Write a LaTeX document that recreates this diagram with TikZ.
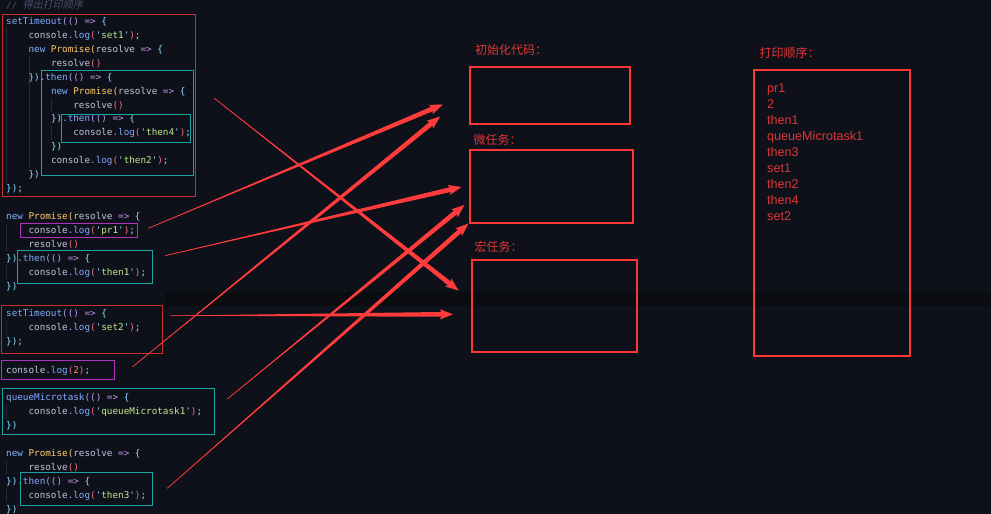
\documentclass[tikz,border=0pt]{standalone}
\usepackage{fontspec}
\setmainfont{Liberation Sans}
\setmonofont{DejaVu Sans Mono}
\newfontfamily\cjkfont{Noto Sans CJK SC}
\newfontfamily\cjkslant{Noto Sans CJK SC}[FakeSlant=0.2]
\usetikzlibrary{arrows.meta,calc}
\definecolor{bgc}{HTML}{0F111A}
\definecolor{bandc}{HTML}{0B0C10}
\definecolor{cident}{HTML}{BFC6DC}
\definecolor{cfn}{HTML}{82AAFF}
\definecolor{ckw}{HTML}{7FB4FF}
\definecolor{ccls}{HTML}{FFCB6B}
\definecolor{cpun}{HTML}{89DDFF}
\definecolor{cpar}{HTML}{B49CF0}
\definecolor{carr}{HTML}{C792EA}
\definecolor{cred}{HTML}{F07178}
\definecolor{cstr}{HTML}{C3E88D}
\definecolor{cnum}{HTML}{F78C6C}
\definecolor{ccom}{HTML}{4A5068}
\definecolor{guidec}{HTML}{262A38}
\definecolor{codered}{HTML}{C8302E}
\definecolor{codeteal}{HTML}{1AA3A3}
\definecolor{codemag}{HTML}{B030C0}
\definecolor{boxred}{HTML}{FF3636}
\definecolor{labred}{HTML}{E03535}
\definecolor{arrowc}{HTML}{FF3B3B}
\newcommand\cdF[1]{\textcolor{cfn}{#1}}
\newcommand\cdK[1]{\textcolor{ckw}{#1}}
\newcommand\cdC[1]{\textcolor{ccls}{#1}}
\newcommand\cdP[1]{\textcolor{cpun}{#1}}
\newcommand\cdQ[1]{\textcolor{cpar}{#1}}
\newcommand\cdA[1]{\textcolor{carr}{#1}}
\newcommand\cdR[1]{\textcolor{cred}{#1}}
\newcommand\cdS[1]{\textcolor{cstr}{#1}}
\newcommand\cdN[1]{\textcolor{cnum}{#1}}
\newcommand\cdArrowFn{\cdQ{(()}~\cdA{=>}~\cdP{\{}}
\newcommand\cdLog[1]{console\cdF{.log}\cdR{(}\cdP{'}\cdS{#1}\cdP{'}\cdR{)}\cdP{;}}
\newcommand\cdNewP{\cdK{new}~\cdC{Promise(}resolve~\cdA{=>}~\cdP{\{}}
\newcommand\cdThen{\cdP{\})}\cdF{.then}\cdArrowFn}
\newcommand\taperarrow[2]{%
  \coordinate (#1b) at ($(#2)!10pt!(#1)$);
  \fill[arrowc] (#1) -- ($(#1b)!2.4pt!90:(#2)$) -- ($(#1b)!2.4pt!-90:(#2)$) -- cycle;
  \draw[conn] (#1) -- (#2);}
\tikzset{
  code/.style={anchor=base west, inner sep=0pt, font=\ttfamily\fontsize{9.3}{11}\selectfont, text=cident},
  codebox/.style={draw=#1, line width=0.9pt},
  taskbox/.style={draw=boxred, line width=1.8pt},
  tasklabel/.style={anchor=base west, inner sep=0pt, font=\cjkfont\fontsize{12}{14}\selectfont, text=labred},
  outline/.style={anchor=base west, inner sep=0pt, font=\fontsize{12.6}{15}\selectfont, text=labred},
  guide/.style={draw=guidec, line width=0.6pt},
  conn/.style={draw=arrowc, line width=0.7pt, -{Stealth[length=13pt,width=10pt,inset=2.5pt]}}
}
\begin{document}
\begin{tikzpicture}[x=1pt,y=-1pt]
\fill[bgc] (0,0) rectangle (991,514);
\useasboundingbox (0,0) rectangle (991,514);
\fill[bandc] (165,292) rectangle (991,306);

% comment
\node[anchor=base west, inner sep=0pt, text=ccom, font=\fontsize{10}{12}\selectfont] (cmt) at (6,8.5)
  {\ttfamily\fontsize{9.3}{11}\selectfont //~\cjkslant\fontsize{10}{12}\selectfont 得出打印顺序};

% indent guides
\draw[guide] (6.5,28) -- (6.5,183);
\draw[guide] (29,56) -- (29,168);
\draw[guide] (51.5,98) -- (51.5,112);
\draw[guide] (51.5,126) -- (51.5,140);
\draw[guide] (6.5,224) -- (6.5,251);
\draw[guide] (6.5,265) -- (6.5,279);
\draw[guide] (6.5,321) -- (6.5,335);
\draw[guide] (6.5,405) -- (6.5,419);
\draw[guide] (6.5,461) -- (6.5,474);
\draw[guide] (6.5,488) -- (6.5,502);

% block 1
\node[code] (a1) at (6,24.3) {\cdF{setTimeout}\cdArrowFn};
\node[code] (a2) at (28.4,38.2) {\cdLog{set1}};
\node[code] (a3) at (28.4,52.2) {\cdNewP};
\node[code] (a4) at (50.8,66.1) {resolve\cdR{()}};
\node[code] (a5) at (28.4,80.1) {\cdThen};
\node[code] (a6) at (50.8,94.0) {\cdNewP};
\node[code] (a7) at (73.2,108.0) {resolve\cdR{()}};
\node[code] (a8) at (50.8,121.9) {\cdThen};
\node[code] (a9) at (73.2,135.9) {\cdLog{then4}};
\node[code] (a10) at (50.8,149.8) {\cdP{\})}};
\node[code] (a11) at (50.8,163.8) {\cdLog{then2}};
\node[code] (a12) at (28.4,177.7) {\cdP{\})}};
\node[code] (a13) at (6,191.7) {\cdP{\});}};

% block 2
\node[code] (b1) at (6,219.7) {\cdNewP};
\node[code] (b2) at (28.4,233.6) {\cdLog{pr1}};
\node[code] (b3) at (28.4,247.5) {resolve\cdR{()}};
\node[code] (b4) at (6,261.4) {\cdThen};
\node[code] (b5) at (28.4,275.3) {\cdLog{then1}};
\node[code] (b6) at (6,289.2) {\cdP{\})}};

% block 3
\node[code] (c1) at (6,316.7) {\cdF{setTimeout}\cdArrowFn};
\node[code] (c2) at (28.4,330.7) {\cdLog{set2}};
\node[code] (c3) at (6,344.7) {\cdP{\});}};

% block 4
\node[code] (d1) at (6,373) {console\cdF{.log}\cdR{(}\cdN{2}\cdR{)}\cdP{;}};

% block 5
\node[code] (e1) at (6,400.7) {\cdF{queueMicrotask}\cdArrowFn};
\node[code] (e2) at (28.4,414.7) {\cdLog{queueMicrotask1}};
\node[code] (e3) at (6,428.7) {\cdP{\})}};

% block 6
\node[code] (f1) at (6,456.3) {\cdNewP};
\node[code] (f2) at (28.4,470.3) {resolve\cdR{()}};
\node[code] (f3) at (6,484.3) {\cdThen};
\node[code] (f4) at (28.4,498.3) {\cdLog{then3}};
\node[code] (f5) at (6,512.3) {\cdP{\})}};

% code boxes
\draw[codebox=codered] (2.3,14) rectangle (195.7,196.5);
\draw[codebox=codeteal] (41.7,70) rectangle (193,175);
\draw[codebox=codeteal] (61.7,114.3) rectangle (190.7,142.3);
\draw[codebox=codemag] (20,223.3) rectangle (137.3,237.7);
\draw[codebox=codeteal] (17.7,250.3) rectangle (152.3,283.3);
\draw[codebox=codered] (1,305) rectangle (162.3,353.7);
\draw[codebox=codemag] (1,360) rectangle (114.3,379.3);
\draw[codebox=codeteal] (2.3,388.7) rectangle (214.3,434.3);
\draw[codebox=codeteal] (20.7,472.7) rectangle (152.7,505.3);

% task boxes and labels
\node[tasklabel] (linit) at (475,54.5) {初始化代码：};
\draw[taskbox] (470,66.7) rectangle (630,124.3);
\node[tasklabel] (lmicro) at (473.5,144.5) {微任务：};
\draw[taskbox] (470,150) rectangle (633.3,222.7);
\node[tasklabel] (lmacro) at (474.5,251) {宏任务：};
\draw[taskbox] (471.7,260) rectangle (636.7,352.3);
\node[tasklabel] (lprint) at (759.5,57.5) {打印顺序：};
\draw[taskbox] (754,70) rectangle (910.3,355.7);

% printed order
\node[outline] (o1) at (767,92.5) {pr1};
\node[outline] (o2) at (767,108.5) {2};
\node[outline] (o3) at (767,124.5) {then1};
\node[outline] (o4) at (767,140.5) {queueMicrotask1};
\node[outline] (o5) at (767,156.5) {then3};
\node[outline] (o6) at (767,172.5) {set1};
\node[outline] (o7) at (767,188.5) {then2};
\node[outline] (o8) at (767,204.5) {then4};
\node[outline] (o9) at (767,220.5) {set2};

% arrows
\coordinate (sA) at (214.3,98.3);  \coordinate (eA) at (458.5,290.5);
\coordinate (sB) at (148.3,228.3); \coordinate (eB) at (442.7,104.5);
\coordinate (sC) at (132.7,366.7); \coordinate (eC) at (440,116.5);
\coordinate (sD) at (165,255.7);   \coordinate (eD) at (461.5,187);
\coordinate (sE) at (227.3,399);   \coordinate (eE) at (464.5,205);
\coordinate (sF) at (167.3,488.3); \coordinate (eF) at (468.5,223.5);
\coordinate (sG) at (170.7,315.7); \coordinate (eG) at (453,314.3);
\taperarrow{sA}{eA}
\taperarrow{sB}{eB}
\taperarrow{sC}{eC}
\taperarrow{sD}{eD}
\taperarrow{sE}{eE}
\taperarrow{sF}{eF}
\taperarrow{sG}{eG}
\end{tikzpicture}
\end{document}
